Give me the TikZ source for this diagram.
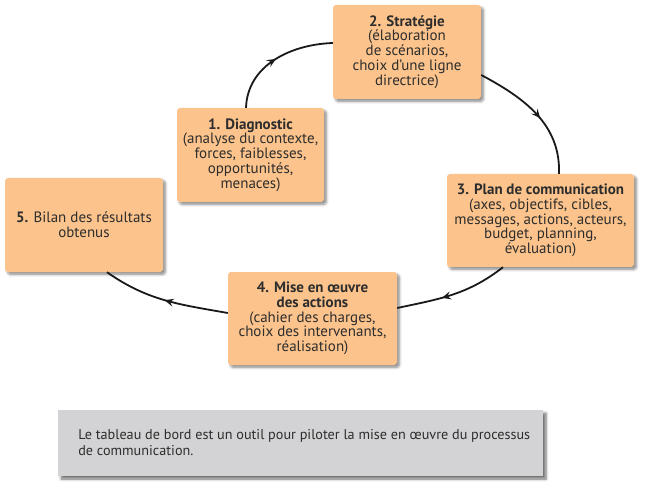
\documentclass[tikz,border=0pt]{standalone}
\usepackage{fontspec}
\setmainfont{PT Sans}
\usetikzlibrary{calc,arrows.meta,decorations.markings,shadows.blur}
\definecolor{boxfill}{RGB}{252,196,140}
\definecolor{notefill}{RGB}{211,211,213}
\definecolor{txt}{RGB}{45,45,45}
\begin{document}
\begin{tikzpicture}[x=1pt,y=1pt,
  stagebox/.style={fill=boxfill, rounded corners=3pt, inner sep=0pt, align=center,
    text=txt, font=\fontsize{15}{14.8}\selectfont,
    blur shadow={shadow xshift=2.5pt, shadow yshift=-2.5pt, shadow blur steps=6, shadow blur radius=2.5pt, shadow opacity=45}},
  notebox/.style={fill=notefill, inner sep=0pt, text=txt,
    blur shadow={shadow xshift=3pt, shadow yshift=-3pt, shadow blur steps=6, shadow blur radius=2.5pt, shadow opacity=55}},
  cycle/.style={line width=1.8pt, color=black!90,
    postaction={decorate, decoration={markings, mark=at position #1 with {\arrow{Stealth[length=9pt,width=8pt,inset=3.5pt]}}}}},
  cycle/.default=0.5
]
\useasboundingbox (0,0) rectangle (648,488);
\node[stagebox, minimum width=147pt, minimum height=94pt] (b1) at (250.5,333)
  {\textbf{1. Diagnostic}\\(analyse du contexte,\\forces, faiblesses,\\opportunités,\\menaces)};
\node[stagebox, minimum width=148pt, minimum height=94pt] (b2) at (407,436)
  {\textbf{2. Stratégie}\\(élaboration\\de scénarios,\\choix d’une ligne\\directrice)};
\node[stagebox, minimum width=187pt, minimum height=93pt] (b3) at (540.5,267.5)
  {\textbf{3. Plan de communication}\\(axes, objectifs, cibles,\\messages, actions, acteurs,\\budget, planning,\\évaluation)};
\node[stagebox, minimum width=169pt, minimum height=93pt] (b4) at (312.5,169.5)
  {\textbf{4. Mise en œuvre}\\\textbf{des actions}\\(cahier des charges,\\choix des intervenants,\\réalisation)};
\node[stagebox, minimum width=158pt, minimum height=94pt] (b5) at (84,263)
  {\textbf{5.} Bilan des résultats\\obtenus};
\node[notebox, minimum width=485pt, minimum height=66pt] (note) at (300.5,45) {};
\node[anchor=west, align=left, text=txt, font=\fontsize{14.2}{16}\selectfont] (notetext) at ($(note.west)+(17,0)$)
  {Le tableau de bord est un outil pour piloter la mise en œuvre du processus\\de communication.};

\draw[cycle] ($(b1.north)+(-4.5,0)$) to[out=88,in=182] ($(b2.west)+(0,9)$);
\draw[cycle=0.55] ($(b2.east)+(0,-23)$) to[out=-28,in=88] ($(b3.north)+(18.5,0)$);
\draw[cycle=0.6] ($(b3.south)+(-37.5,0)$) to[out=-142,in=12] ($(b4.east)+(0,10.5)$);
\draw[cycle] ($(b4.west)+(0,5.5)$) to[out=170,in=-35] ($(b5.south)+(23,0)$);
\end{tikzpicture}
\end{document}
